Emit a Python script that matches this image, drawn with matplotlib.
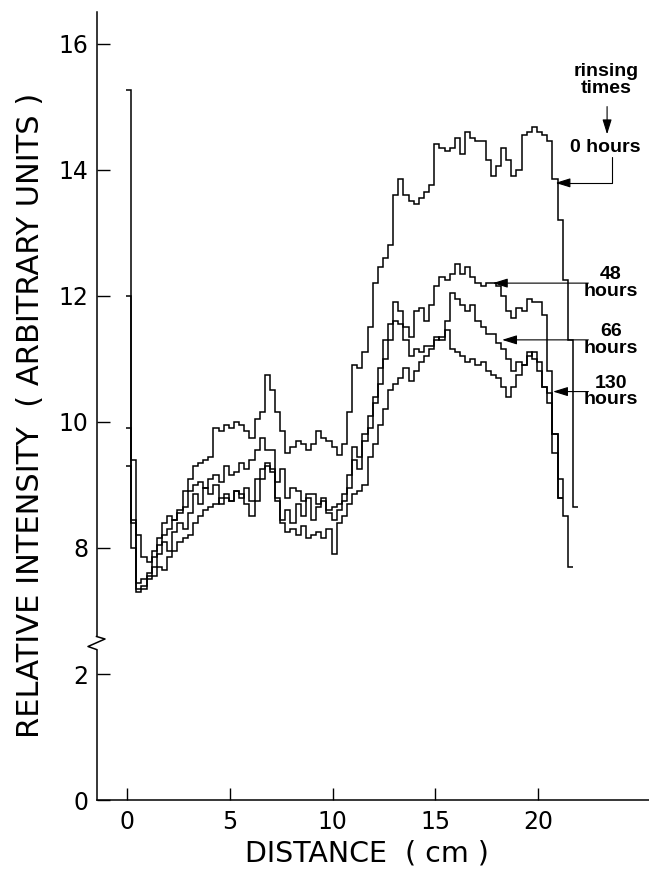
import numpy as np
import matplotlib.pyplot as plt
from matplotlib.lines import Line2D

# intensity profiles, one value per 0.25 cm channel starting at -0.05 cm
DIST_START = -0.05
CHANNEL = 0.25

hours_0 = [15.27, 8.45, 8.2, 7.85, 7.78, 7.95, 8.15, 8.4, 8.5, 8.45,
           8.6, 8.9, 9.1, 9.3, 9.35, 9.4, 9.45, 9.9, 9.85, 9.95,
           9.9, 10.0, 9.95, 9.85, 9.75, 10.05, 10.15, 10.75, 10.5, 10.15,
           9.85, 9.5, 9.6, 9.7, 9.65, 9.55, 9.65, 9.85, 9.75, 9.7,
           9.6, 9.48, 9.65, 10.15, 10.9, 10.85, 11.1, 11.5, 12.2, 12.45,
           12.6, 12.8, 13.6, 13.85, 13.6, 13.5, 13.45, 13.55, 13.65, 13.75,
           14.4, 14.35, 14.3, 14.35, 14.5, 14.25, 14.6, 14.5, 14.45, 14.45,
           14.15, 13.9, 14.05, 14.35, 14.15, 13.9, 14.0, 14.55, 14.6, 14.68,
           14.6, 14.55, 14.45, 13.85, 13.2, 12.25, 11.3, 8.65]

hours_48 = [11.99, 9.4, 7.45, 7.5, 7.6, 7.85, 8.05, 8.2, 8.3, 8.45,
            8.55, 8.65, 8.9, 9.0, 9.05, 8.95, 9.1, 9.15, 9.05, 9.3,
            9.15, 9.2, 9.35, 9.25, 9.4, 9.55, 9.75, 9.55, 9.55, 9.05,
            9.25, 8.8, 8.95, 8.9, 8.75, 8.85, 8.85, 8.7, 8.75, 8.6,
            8.65, 8.7, 8.75, 8.95, 9.6, 9.45, 9.8, 10.1, 10.4, 10.85,
            11.3, 11.55, 11.9, 11.75, 11.5, 11.35, 11.75, 11.8, 11.6, 11.85,
            12.15, 12.3, 12.25, 12.35, 12.5, 12.35, 12.45, 12.3, 12.2, 12.15,
            12.2, 12.2, 12.15, 12.0, 11.75, 11.65, 11.8, 11.75, 11.95, 11.9,
            11.9, 11.7, 10.8, 9.8, 8.8]

hours_66 = [9.9, 8.4, 7.35, 7.4, 7.55, 7.7, 7.9, 8.1, 7.95, 8.25,
            8.4, 8.3, 8.55, 8.85, 8.7, 8.95, 8.85, 9.0, 8.7, 8.8,
            8.75, 8.9, 8.8, 8.95, 8.75, 9.1, 9.25, 9.35, 9.2, 8.75,
            8.45, 8.6, 8.4, 8.7, 8.5, 8.8, 8.45, 8.65, 8.8, 8.55,
            8.45, 8.6, 8.85, 9.15, 9.4, 9.25, 9.7, 9.9, 10.3, 10.6,
            11.0, 11.3, 11.6, 11.55, 11.3, 11.05, 11.15, 11.1, 11.2, 11.2,
            11.3, 11.35, 11.6, 12.05, 11.95, 11.85, 11.75, 11.85, 11.6, 11.5,
            11.4, 11.4, 11.25, 11.15, 11.0, 10.8, 10.95, 10.9, 11.1, 11.0,
            10.8, 10.55, 10.3, 9.8, 9.1, 8.5, 7.7]

hours_130 = [9.3, 8.0, 7.3, 7.35, 7.5, 7.55, 7.7, 7.65, 7.85, 7.95,
             8.1, 8.15, 8.2, 8.4, 8.5, 8.6, 8.65, 8.7, 8.8, 8.85,
             8.75, 8.9, 8.85, 8.7, 8.5, 8.75, 9.1, 9.3, 9.25, 8.8,
             8.4, 8.25, 8.3, 8.2, 8.35, 8.15, 8.2, 8.25, 8.15, 8.3,
             7.9, 8.4, 8.5, 8.7, 8.85, 8.9, 9.0, 9.45, 9.65, 9.95,
             10.2, 10.5, 10.6, 10.7, 10.85, 10.65, 10.8, 10.95, 11.05, 11.15,
             11.35, 11.3, 11.45, 11.15, 11.1, 11.05, 10.95, 11.0, 10.9, 10.95,
             10.8, 10.75, 10.7, 10.55, 10.4, 10.55, 10.75, 10.9, 11.05, 11.1,
             10.95, 10.55, 10.45, 9.5, 8.8]

# labels and where their arrows point (distance, intensity)
LABELS = ["48\nhours", "66\nhours", "130\nhours"]
LABEL_Y = [12.2, 11.3, 10.48]
ARROW_TIP_X = [17.8, 18.25, 20.73]

W, H = 649, 871
fig = plt.figure(figsize=(W / 100, H / 100), dpi=100)


def fx(px):
    return px / W


def fy(py):
    return 1 - py / H


LEFT = 96.5
XLIM = (-1.49, 25.4)
BREAK = 640

ax_lo = fig.add_axes([fx(LEFT), fy(800), fx(W) - fx(LEFT), fy(BREAK) - fy(800)])
ax_hi = fig.add_axes([fx(LEFT), fy(BREAK), fx(W) - fx(LEFT), fy(12) - fy(BREAK)])

TICK_FONT = dict(family="DejaVu Sans", size=17)
NOTE_FONT = dict(family="Liberation Sans", size=14, weight="bold")

for ax in (ax_lo, ax_hi):
    ax.set_xlim(*XLIM)
    ax.spines["top"].set_visible(False)
    ax.spines["right"].set_visible(False)
    ax.spines["left"].set_linewidth(1.1)
    ax.spines["bottom"].set_linewidth(1.1)
    ax.patch.set_alpha(0)
    ax.tick_params(direction="in", length=9, width=1.0, pad=6,
                   labelsize=TICK_FONT["size"])

ax_hi.set_ylim(6.54, 16.5)
ax_hi.spines["bottom"].set_visible(False)
ax_hi.set_xticks([])
ax_hi.set_yticks([8, 10, 12, 14, 16])
ax_hi.spines["left"].set_bounds(6.61, 16.5)

ax_lo.set_ylim(0, 2.54)
ax_lo.set_yticks([0, 2])
ax_lo.set_xticks([0, 5, 10, 15, 20])
ax_lo.spines["left"].set_bounds(0, 2.38)
ax_lo.tick_params(axis="x", pad=7)

for ax in (ax_lo, ax_hi):
    for lab in ax.get_xticklabels() + ax.get_yticklabels():
        lab.set_family(TICK_FONT["family"])

for vals in (hours_0, hours_48, hours_66, hours_130):
    edges = DIST_START + CHANNEL * np.arange(len(vals) + 1)
    ax_hi.stairs(vals, edges, baseline=None, color="black", lw=1.1)

# axis break zigzag on the left spine
zx = [fx(LEFT), fx(LEFT + 8.5), fx(LEFT - 8.5), fx(LEFT)]
zy = [fy(636.5), fy(639), fy(646.5), fy(649.5)]
fig.add_artist(Line2D(zx, zy, color="black", lw=1.1))

arrow = dict(arrowstyle="-|>,head_length=0.9,head_width=0.28",
             color="black", lw=0.8, shrinkA=0, shrinkB=0)

ax_hi.text(23.3, 15.42, "rinsing\ntimes", ha="center", va="center",
           linespacing=0.95, **NOTE_FONT)
ax_hi.annotate("", xy=(23.36, 14.56), xytext=(23.36, 15.0), arrowprops=arrow)
ax_hi.text(23.26, 14.35, "0 hours", ha="center", va="center", **NOTE_FONT)
ax_hi.annotate("", xy=(20.85, 13.79), xytext=(23.6, 14.2),
               arrowprops=dict(arrow, connectionstyle="angle,angleA=90,angleB=0,rad=0"))

for text, y, tip in zip(LABELS, LABEL_Y, ARROW_TIP_X):
    ax_hi.text(23.55, y, text, ha="center", va="center",
               linespacing=0.95, **NOTE_FONT)
    ax_hi.annotate("", xy=(tip, y), xytext=(22.45, y), arrowprops=arrow)

fig.text(fx(LEFT + (W - LEFT) * 0.49), fy(853), "DISTANCE  ( cm )",
         ha="center", va="center", family="DejaVu Sans", size=20.5)
fig.text(fx(31), fy(415), "RELATIVE INTENSITY  ( ARBITRARY UNITS )",
         ha="center", va="center", rotation=90, family="DejaVu Sans",
         size=22)

fig.savefig("out.png", dpi=100)
